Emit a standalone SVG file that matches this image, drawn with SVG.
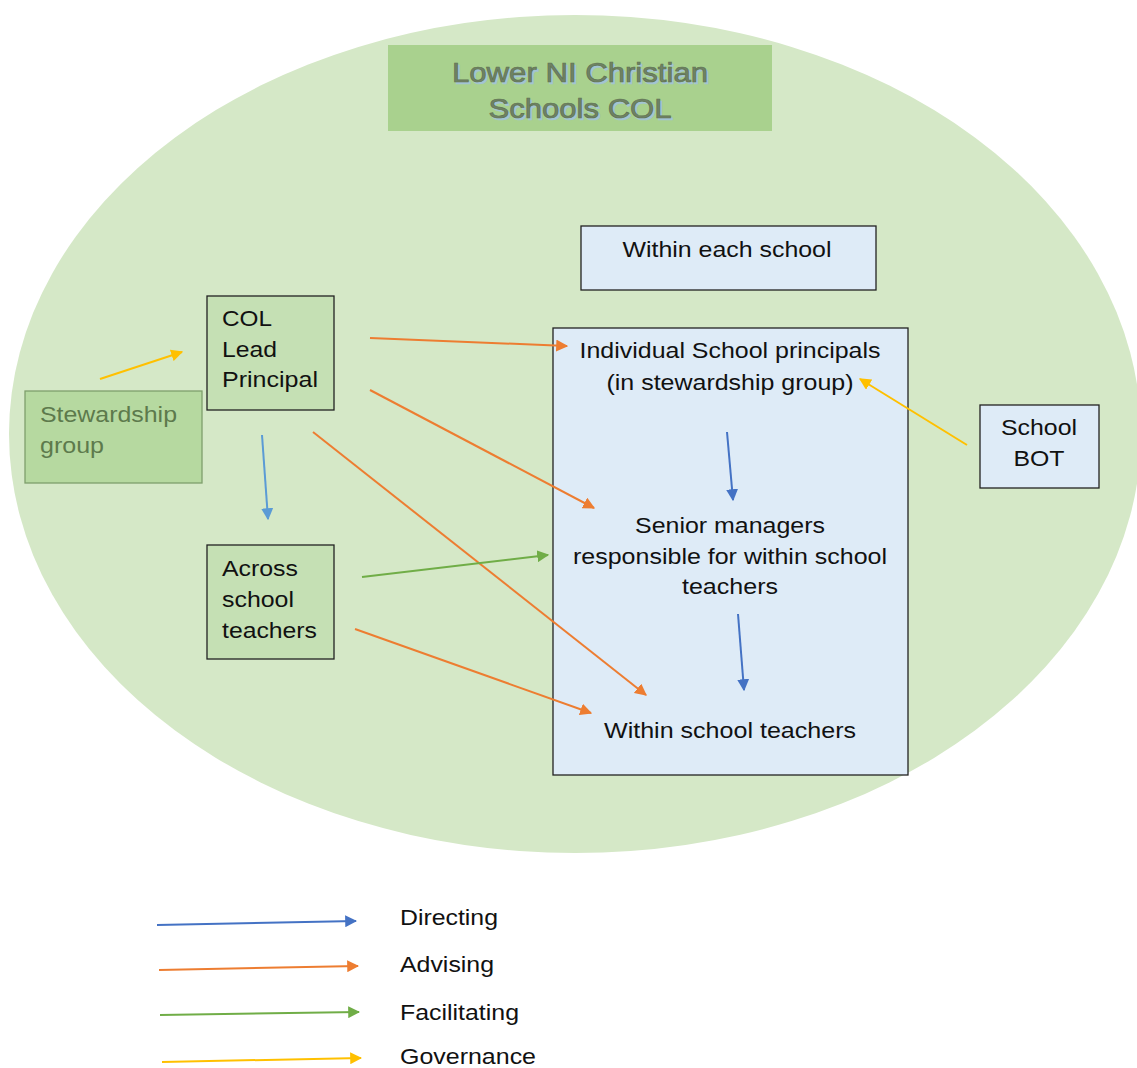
<svg xmlns="http://www.w3.org/2000/svg" width="1137" height="1068" viewBox="0 0 1137 1068">
<defs>
<style>
text{font-family:"Liberation Sans",Arial,sans-serif;font-size:22px;fill:#111}
.box{stroke:#222;stroke-width:1.3}
.green{fill:#c5e0b4}
.blue{fill:#deebf7}
.c{text-anchor:middle}
.ln{fill:none;stroke-width:2}
.dir{stroke:#4472c4}
.dir2{stroke:#5b9bd5}
.adv{stroke:#ed7d31}
.fac{stroke:#70ad47}
.gov{stroke:#ffc000}
.sg{fill:#5d7a4c}
.title{font-size:27px;text-anchor:middle;fill:#6f8264;stroke:#5f7352;stroke-width:0.7}
.shadow{font-size:27px;text-anchor:middle;fill:#a3c4d2;stroke:#a3c4d2;stroke-width:0.7}
</style>
<marker id="mDir" viewBox="0 0 10 10" refX="9" refY="5" markerWidth="6" markerHeight="6" markerUnits="strokeWidth" orient="auto"><path d="M0,0 L10,5 L0,10 z" fill="#4472c4"/></marker>
<marker id="mDir2" viewBox="0 0 10 10" refX="9" refY="5" markerWidth="6" markerHeight="6" markerUnits="strokeWidth" orient="auto"><path d="M0,0 L10,5 L0,10 z" fill="#5b9bd5"/></marker>
<marker id="mAdv" viewBox="0 0 10 10" refX="9" refY="5" markerWidth="6" markerHeight="6" markerUnits="strokeWidth" orient="auto"><path d="M0,0 L10,5 L0,10 z" fill="#ed7d31"/></marker>
<marker id="mFac" viewBox="0 0 10 10" refX="9" refY="5" markerWidth="6" markerHeight="6" markerUnits="strokeWidth" orient="auto"><path d="M0,0 L10,5 L0,10 z" fill="#70ad47"/></marker>
<marker id="mGov" viewBox="0 0 10 10" refX="9" refY="5" markerWidth="6" markerHeight="6" markerUnits="strokeWidth" orient="auto"><path d="M0,0 L10,5 L0,10 z" fill="#ffc000"/></marker>
</defs>
<rect width="1137" height="1068" fill="#fff"/>
<ellipse id="col-ellipse" cx="575" cy="434" rx="566" ry="419" fill="#d5e8c7"/>

<g id="title">
<rect x="388" y="45" width="384" height="86" fill="#a9d18e"/>
<text class="shadow" x="582" y="84" textLength="256" lengthAdjust="spacingAndGlyphs">Lower NI Christian</text>
<text class="shadow" x="582" y="120" textLength="183" lengthAdjust="spacingAndGlyphs">Schools COL</text>
<text class="title" x="580" y="82" textLength="256" lengthAdjust="spacingAndGlyphs">Lower NI Christian</text>
<text class="title" x="580" y="118" textLength="183" lengthAdjust="spacingAndGlyphs">Schools COL</text>
</g>

<g id="within-each-school">
<rect class="box blue" x="581" y="226" width="295" height="64"/>
<text class="c" x="727" y="257" textLength="209" lengthAdjust="spacingAndGlyphs">Within each school</text>
</g>

<g id="col-lead-principal">
<rect class="box green" x="207" y="296" width="127" height="114"/>
<text x="222" y="326" textLength="50" lengthAdjust="spacingAndGlyphs">COL</text>
<text x="222" y="357" textLength="55" lengthAdjust="spacingAndGlyphs">Lead</text>
<text x="222" y="387" textLength="96" lengthAdjust="spacingAndGlyphs">Principal</text>
</g>

<g id="stewardship-group">
<rect x="25" y="391" width="177" height="92" fill="#b6d9a0" stroke="#7f9f6c" stroke-width="1.3"/>
<text class="sg" x="40" y="422" textLength="137" lengthAdjust="spacingAndGlyphs">Stewardship</text>
<text class="sg" x="40" y="453" textLength="64" lengthAdjust="spacingAndGlyphs">group</text>
</g>

<g id="across-school-teachers">
<rect class="box green" x="207" y="545" width="127" height="114"/>
<text x="222" y="576" textLength="76" lengthAdjust="spacingAndGlyphs">Across</text>
<text x="222" y="607" textLength="72" lengthAdjust="spacingAndGlyphs">school</text>
<text x="222" y="638" textLength="95" lengthAdjust="spacingAndGlyphs">teachers</text>
</g>

<g id="school">
<rect class="box blue" x="553" y="328" width="355" height="447"/>
<text class="c" x="730" y="358" textLength="301" lengthAdjust="spacingAndGlyphs">Individual School principals</text>
<text class="c" x="730" y="390" textLength="247" lengthAdjust="spacingAndGlyphs">(in stewardship group)</text>
<text class="c" x="730" y="533" textLength="190" lengthAdjust="spacingAndGlyphs">Senior managers</text>
<text class="c" x="730" y="564" textLength="314" lengthAdjust="spacingAndGlyphs">responsible for within school</text>
<text class="c" x="730" y="594" textLength="96" lengthAdjust="spacingAndGlyphs">teachers</text>
<text class="c" x="730" y="738" textLength="252" lengthAdjust="spacingAndGlyphs">Within school teachers</text>
</g>

<g id="school-bot">
<rect class="box blue" x="980" y="405" width="119" height="83"/>
<text class="c" x="1039" y="435" textLength="76" lengthAdjust="spacingAndGlyphs">School</text>
<text class="c" x="1039" y="466" textLength="51" lengthAdjust="spacingAndGlyphs">BOT</text>
</g>

<g id="connectors">
<line class="ln gov" x1="100" y1="379" x2="182" y2="352" marker-end="url(#mGov)"/>
<line class="ln dir2" x1="262" y1="435" x2="268" y2="519" marker-end="url(#mDir2)"/>
<line class="ln adv" x1="370" y1="338" x2="567" y2="346" marker-end="url(#mAdv)"/>
<line class="ln adv" x1="370" y1="390" x2="594" y2="508" marker-end="url(#mAdv)"/>
<line class="ln adv" x1="313" y1="432" x2="646" y2="695" marker-end="url(#mAdv)"/>
<line class="ln fac" x1="362" y1="577" x2="548" y2="555" marker-end="url(#mFac)"/>
<line class="ln adv" x1="355" y1="629" x2="591" y2="713" marker-end="url(#mAdv)"/>
<line class="ln gov" x1="967" y1="445" x2="860" y2="379" marker-end="url(#mGov)"/>
<line class="ln dir" x1="727" y1="432" x2="733" y2="500" marker-end="url(#mDir)"/>
<line class="ln dir" x1="738" y1="614" x2="744" y2="690" marker-end="url(#mDir)"/>
</g>

<g id="legend">
<line class="ln dir" x1="157" y1="925" x2="356" y2="921" marker-end="url(#mDir)"/>
<line class="ln adv" x1="159" y1="970" x2="358" y2="966" marker-end="url(#mAdv)"/>
<line class="ln fac" x1="160" y1="1015" x2="359" y2="1012" marker-end="url(#mFac)"/>
<line class="ln gov" x1="162" y1="1062" x2="361" y2="1058" marker-end="url(#mGov)"/>
<text x="400" y="925" textLength="98" lengthAdjust="spacingAndGlyphs">Directing</text>
<text x="400" y="972" textLength="94" lengthAdjust="spacingAndGlyphs">Advising</text>
<text x="400" y="1020" textLength="119" lengthAdjust="spacingAndGlyphs">Facilitating</text>
<text x="400" y="1064" textLength="136" lengthAdjust="spacingAndGlyphs">Governance</text>
</g>
</svg>
